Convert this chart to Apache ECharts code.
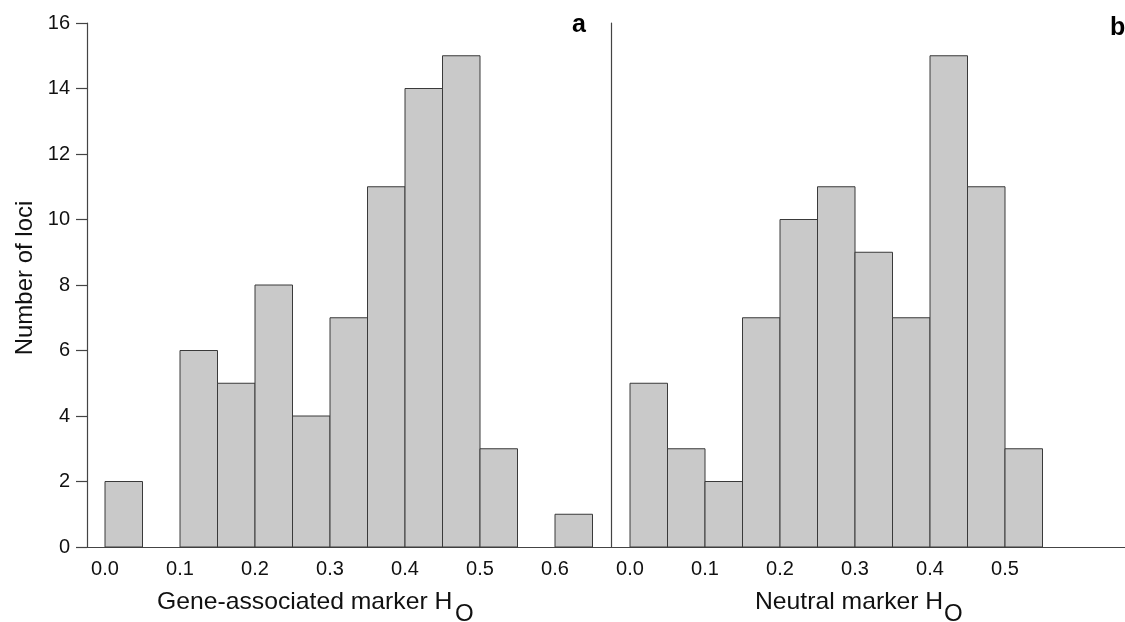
<!DOCTYPE html>
<html>
<head>
<meta charset="utf-8">
<script src="https://cdn.jsdelivr.net/npm/echarts@6/dist/echarts.min.js"></script>
<style>
html,body{margin:0;padding:0;background:#fff;}
#chart{width:1125px;height:622px;}
</style>
</head>
<body>
<div id="chart"></div>
<script>
// Histogram bin edges (H_O)
const binStartsGene = [0.00, 0.05, 0.10, 0.15, 0.20, 0.25, 0.30, 0.35, 0.40, 0.45, 0.50, 0.55, 0.60];
const binEndsGene   = [0.05, 0.10, 0.15, 0.20, 0.25, 0.30, 0.35, 0.40, 0.45, 0.50, 0.55, 0.60, 0.65];
const geneCounts    = [2, 0, 6, 5, 8, 4, 7, 11, 14, 15, 3, 0, 1];

const binStartsNeutral = [0.00, 0.05, 0.10, 0.15, 0.20, 0.25, 0.30, 0.35, 0.40, 0.45, 0.50];
const binEndsNeutral   = [0.05, 0.10, 0.15, 0.20, 0.25, 0.30, 0.35, 0.40, 0.45, 0.50, 0.55];
const neutralCounts    = [5, 3, 2, 7, 10, 11, 9, 7, 15, 11, 3];

const geneTicks    = [0.0, 0.1, 0.2, 0.3, 0.4, 0.5, 0.6];
const neutralTicks = [0.0, 0.1, 0.2, 0.3, 0.4, 0.5];
const yTicks = [0, 2, 4, 6, 8, 10, 12, 14, 16];

const xTitleGene = 'Gene-associated marker H';
const xTitleNeutral = 'Neutral marker H';
const subscript = 'O';
const yTitle = 'Number of loci';
const panelA = 'a';
const panelB = 'b';

const FONT = '"Liberation Sans", Arial, sans-serif';
const AXIS_COLOR = '#444';

function toData(starts, ends, counts) {
  return counts.map((c, i) => [starts[i], ends[i], c]);
}

function renderBar(params, api) {
  const c = api.value(2);
  if (!c) return null;
  const p0 = api.coord([api.value(0), 0]);
  const p1 = api.coord([api.value(1), c]);
  return {
    type: 'rect',
    shape: { x: p0[0], y: p1[1], width: p1[0] - p0[0], height: p0[1] - p1[1] },
    style: { fill: '#c9c9c9', stroke: '#3a3a3a', lineWidth: 1 }
  };
}

const chart = echarts.init(document.getElementById('chart'), null, { renderer: 'canvas' });

const xBase = {
  type: 'value',
  splitLine: { show: false },
  axisLine: { show: true, onZero: false, lineStyle: { color: AXIS_COLOR, width: 1.2 } },
  axisTick: { show: false },
  axisLabel: {
    color: '#111', fontSize: 20, fontFamily: FONT, margin: 12,
    formatter: v => v.toFixed(1), showMinLabel: true, showMaxLabel: true
  }
};

const option = {
  animation: false,
  backgroundColor: '#fff',
  grid: [
    { left: 87, right: 514, top: 23, bottom: 75, containLabel: false },
    { left: 611, right: 0, top: 23, bottom: 75, containLabel: false }
  ],
  xAxis: [
    Object.assign({}, xBase, {
      gridIndex: 0, min: -0.024, max: -0.024 + 524 / 750,
      axisLabel: Object.assign({}, xBase.axisLabel, { customValues: geneTicks })
    }),
    Object.assign({}, xBase, {
      gridIndex: 1, min: -19 / 750, max: -19 / 750 + 514 / 750,
      axisLabel: Object.assign({}, xBase.axisLabel, { customValues: neutralTicks })
    })
  ],
  yAxis: [
    {
      type: 'value', gridIndex: 0, min: 0, max: 16, interval: 2,
      splitLine: { show: false },
      axisLine: { show: true, onZero: false, lineStyle: { color: AXIS_COLOR, width: 1.2 } },
      axisTick: { show: true, inside: false, length: 11, lineStyle: { color: AXIS_COLOR, width: 1.2 } },
      axisLabel: { color: '#111', fontSize: 20, fontFamily: FONT, margin: 17, customValues: yTicks }
    },
    {
      type: 'value', gridIndex: 1, min: 0, max: 16, interval: 2,
      splitLine: { show: false },
      axisLine: { show: true, onZero: false, lineStyle: { color: AXIS_COLOR, width: 1.2 } },
      axisTick: { show: false },
      axisLabel: { show: false }
    }
  ],
  series: [
    {
      type: 'custom', xAxisIndex: 0, yAxisIndex: 0,
      renderItem: renderBar,
      encode: { x: [0, 1], y: 2 },
      data: toData(binStartsGene, binEndsGene, geneCounts)
    },
    {
      type: 'custom', xAxisIndex: 1, yAxisIndex: 1,
      renderItem: renderBar,
      encode: { x: [0, 1], y: 2 },
      data: toData(binStartsNeutral, binEndsNeutral, neutralCounts)
    }
  ],
  graphic: [
    {
      type: 'text', x: 157, y: 602, scaleX: 1.03,
      style: { text: xTitleGene, font: '24px ' + FONT, fill: '#111', align: 'left', verticalAlign: 'middle' }
    },
    {
      type: 'text', x: 455, y: 614,
      style: { text: subscript, font: '24px ' + FONT, fill: '#111', align: 'left', verticalAlign: 'middle' }
    },
    {
      type: 'text', x: 755, y: 602, scaleX: 1.03,
      style: { text: xTitleNeutral, font: '24px ' + FONT, fill: '#111', align: 'left', verticalAlign: 'middle' }
    },
    {
      type: 'text', x: 944, y: 614,
      style: { text: subscript, font: '24px ' + FONT, fill: '#111', align: 'left', verticalAlign: 'middle' }
    },
    {
      type: 'text', x: 25, y: 278, rotation: Math.PI / 2,
      style: { text: yTitle, font: '24px ' + FONT, fill: '#111', align: 'center', verticalAlign: 'middle' }
    },
    {
      type: 'text', x: 572, y: 25,
      style: { text: panelA, font: 'bold 25px ' + FONT, fill: '#000', align: 'left', verticalAlign: 'middle' }
    },
    {
      type: 'text', x: 1110, y: 28,
      style: { text: panelB, font: 'bold 25px ' + FONT, fill: '#000', align: 'left', verticalAlign: 'middle' }
    }
  ]
};

chart.setOption(option);
</script>
</body>
</html>
